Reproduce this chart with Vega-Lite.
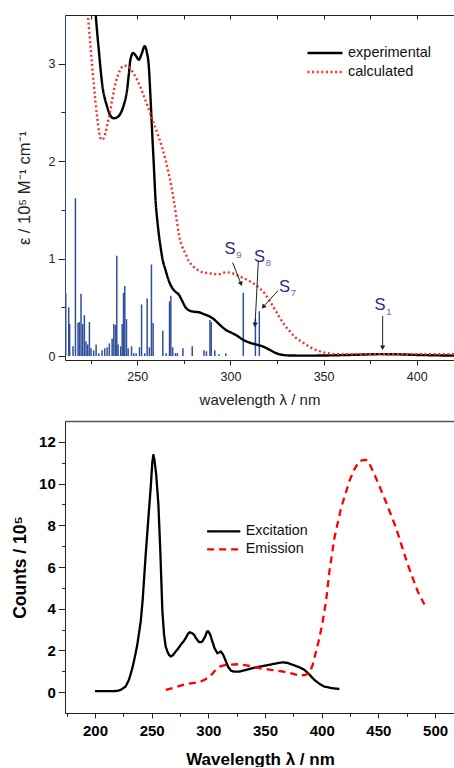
{
  "$schema": "https://vega.github.io/schema/vega-lite/v6.json",
  "padding": {"left": 11, "top": 14, "right": 0, "bottom": 0},
  "spacing": 13,
  "align": "all",
  "datasets": {
    "uv": [
      {"wl": 225.0, "eps": 4.3, "series": "experimental"},
      {"wl": 226.5, "eps": 3.85, "series": "experimental"},
      {"wl": 227.7, "eps": 3.5, "series": "experimental"},
      {"wl": 229.3, "eps": 3.15, "series": "experimental"},
      {"wl": 231.1, "eps": 2.8, "series": "experimental"},
      {"wl": 233.8, "eps": 2.56, "series": "experimental"},
      {"wl": 235.5, "eps": 2.47, "series": "experimental"},
      {"wl": 237.4, "eps": 2.44, "series": "experimental"},
      {"wl": 239.2, "eps": 2.45, "series": "experimental"},
      {"wl": 241.0, "eps": 2.49, "series": "experimental"},
      {"wl": 242.8, "eps": 2.58, "series": "experimental"},
      {"wl": 244.5, "eps": 2.73, "series": "experimental"},
      {"wl": 245.5, "eps": 2.9, "series": "experimental"},
      {"wl": 246.3, "eps": 3.04, "series": "experimental"},
      {"wl": 247.8, "eps": 3.11, "series": "experimental"},
      {"wl": 249.3, "eps": 3.08, "series": "experimental"},
      {"wl": 250.8, "eps": 3.04, "series": "experimental"},
      {"wl": 252.3, "eps": 3.1, "series": "experimental"},
      {"wl": 254.0, "eps": 3.18, "series": "experimental"},
      {"wl": 255.1, "eps": 3.12, "series": "experimental"},
      {"wl": 256.2, "eps": 2.97, "series": "experimental"},
      {"wl": 257.1, "eps": 2.65, "series": "experimental"},
      {"wl": 258.0, "eps": 2.29, "series": "experimental"},
      {"wl": 258.9, "eps": 1.95, "series": "experimental"},
      {"wl": 259.8, "eps": 1.6, "series": "experimental"},
      {"wl": 260.7, "eps": 1.4, "series": "experimental"},
      {"wl": 261.5, "eps": 1.26, "series": "experimental"},
      {"wl": 262.5, "eps": 1.12, "series": "experimental"},
      {"wl": 263.4, "eps": 1.01, "series": "experimental"},
      {"wl": 265.2, "eps": 0.88, "series": "experimental"},
      {"wl": 267.0, "eps": 0.77, "series": "experimental"},
      {"wl": 268.7, "eps": 0.7, "series": "experimental"},
      {"wl": 270.5, "eps": 0.66, "series": "experimental"},
      {"wl": 272.3, "eps": 0.63, "series": "experimental"},
      {"wl": 274.0, "eps": 0.57, "series": "experimental"},
      {"wl": 275.9, "eps": 0.5, "series": "experimental"},
      {"wl": 277.7, "eps": 0.47, "series": "experimental"},
      {"wl": 280.5, "eps": 0.455, "series": "experimental"},
      {"wl": 283.1, "eps": 0.45, "series": "experimental"},
      {"wl": 285.8, "eps": 0.43, "series": "experimental"},
      {"wl": 288.5, "eps": 0.41, "series": "experimental"},
      {"wl": 291.0, "eps": 0.38, "series": "experimental"},
      {"wl": 293.8, "eps": 0.33, "series": "experimental"},
      {"wl": 297.4, "eps": 0.27, "series": "experimental"},
      {"wl": 300.5, "eps": 0.24, "series": "experimental"},
      {"wl": 303.5, "eps": 0.21, "series": "experimental"},
      {"wl": 306.5, "eps": 0.17, "series": "experimental"},
      {"wl": 310.0, "eps": 0.14, "series": "experimental"},
      {"wl": 313.7, "eps": 0.12, "series": "experimental"},
      {"wl": 317.3, "eps": 0.1, "series": "experimental"},
      {"wl": 320.5, "eps": 0.07, "series": "experimental"},
      {"wl": 324.5, "eps": 0.03, "series": "experimental"},
      {"wl": 328.1, "eps": 0.012, "series": "experimental"},
      {"wl": 332.5, "eps": 0.006, "series": "experimental"},
      {"wl": 340.5, "eps": 0.005, "series": "experimental"},
      {"wl": 350.0, "eps": 0.006, "series": "experimental"},
      {"wl": 360.0, "eps": 0.01, "series": "experimental"},
      {"wl": 370.0, "eps": 0.015, "series": "experimental"},
      {"wl": 380.0, "eps": 0.02, "series": "experimental"},
      {"wl": 390.0, "eps": 0.018, "series": "experimental"},
      {"wl": 400.0, "eps": 0.012, "series": "experimental"},
      {"wl": 410.0, "eps": 0.008, "series": "experimental"},
      {"wl": 420.0, "eps": 0.005, "series": "experimental"},
      {"wl": 222.0, "eps": 3.75, "series": "calculated"},
      {"wl": 223.5, "eps": 3.49, "series": "calculated"},
      {"wl": 225.0, "eps": 3.15, "series": "calculated"},
      {"wl": 226.6, "eps": 2.8, "series": "calculated"},
      {"wl": 228.4, "eps": 2.46, "series": "calculated"},
      {"wl": 229.5, "eps": 2.3, "series": "calculated"},
      {"wl": 230.8, "eps": 2.22, "series": "calculated"},
      {"wl": 231.8, "eps": 2.23, "series": "calculated"},
      {"wl": 232.9, "eps": 2.29, "series": "calculated"},
      {"wl": 234.2, "eps": 2.4, "series": "calculated"},
      {"wl": 235.6, "eps": 2.53, "series": "calculated"},
      {"wl": 236.9, "eps": 2.67, "series": "calculated"},
      {"wl": 238.3, "eps": 2.8, "series": "calculated"},
      {"wl": 240.0, "eps": 2.9, "series": "calculated"},
      {"wl": 241.5, "eps": 2.96, "series": "calculated"},
      {"wl": 242.8, "eps": 2.98, "series": "calculated"},
      {"wl": 244.1, "eps": 2.98, "series": "calculated"},
      {"wl": 245.4, "eps": 2.97, "series": "calculated"},
      {"wl": 248.0, "eps": 2.9, "series": "calculated"},
      {"wl": 250.8, "eps": 2.8, "series": "calculated"},
      {"wl": 253.5, "eps": 2.67, "series": "calculated"},
      {"wl": 256.2, "eps": 2.53, "series": "calculated"},
      {"wl": 258.8, "eps": 2.39, "series": "calculated"},
      {"wl": 261.5, "eps": 2.25, "series": "calculated"},
      {"wl": 265.2, "eps": 2.01, "series": "calculated"},
      {"wl": 268.7, "eps": 1.7, "series": "calculated"},
      {"wl": 269.6, "eps": 1.6, "series": "calculated"},
      {"wl": 271.0, "eps": 1.42, "series": "calculated"},
      {"wl": 272.3, "eps": 1.25, "series": "calculated"},
      {"wl": 274.0, "eps": 1.13, "series": "calculated"},
      {"wl": 275.9, "eps": 1.05, "series": "calculated"},
      {"wl": 277.5, "eps": 0.98, "series": "calculated"},
      {"wl": 279.5, "eps": 0.93, "series": "calculated"},
      {"wl": 282.0, "eps": 0.89, "series": "calculated"},
      {"wl": 284.9, "eps": 0.86, "series": "calculated"},
      {"wl": 288.5, "eps": 0.85, "series": "calculated"},
      {"wl": 293.8, "eps": 0.84, "series": "calculated"},
      {"wl": 297.6, "eps": 0.86, "series": "calculated"},
      {"wl": 301.0, "eps": 0.85, "series": "calculated"},
      {"wl": 304.7, "eps": 0.82, "series": "calculated"},
      {"wl": 310.1, "eps": 0.77, "series": "calculated"},
      {"wl": 315.5, "eps": 0.7, "series": "calculated"},
      {"wl": 318.5, "eps": 0.64, "series": "calculated"},
      {"wl": 320.9, "eps": 0.57, "series": "calculated"},
      {"wl": 323.5, "eps": 0.49, "series": "calculated"},
      {"wl": 326.3, "eps": 0.4, "series": "calculated"},
      {"wl": 329.0, "eps": 0.32, "series": "calculated"},
      {"wl": 331.6, "eps": 0.26, "series": "calculated"},
      {"wl": 335.0, "eps": 0.19, "series": "calculated"},
      {"wl": 338.8, "eps": 0.14, "series": "calculated"},
      {"wl": 343.0, "eps": 0.09, "series": "calculated"},
      {"wl": 347.8, "eps": 0.05, "series": "calculated"},
      {"wl": 352.0, "eps": 0.03, "series": "calculated"},
      {"wl": 356.7, "eps": 0.02, "series": "calculated"},
      {"wl": 365.0, "eps": 0.02, "series": "calculated"},
      {"wl": 380.0, "eps": 0.02, "series": "calculated"},
      {"wl": 400.0, "eps": 0.02, "series": "calculated"},
      {"wl": 420.0, "eps": 0.02, "series": "calculated"}
    ],
    "sticks": [
      {"wl": 211.3, "f": 4.0}, {"wl": 211.6, "f": 0.64}, {"wl": 213.2, "f": 0.5}, {"wl": 213.7, "f": 0.33},
      {"wl": 215.5, "f": 0.1}, {"wl": 216.8, "f": 1.62}, {"wl": 218.2, "f": 0.34}, {"wl": 218.9, "f": 0.35},
      {"wl": 219.8, "f": 0.64}, {"wl": 220.7, "f": 0.33}, {"wl": 221.6, "f": 0.42}, {"wl": 222.5, "f": 0.15},
      {"wl": 223.4, "f": 0.12}, {"wl": 224.3, "f": 0.35}, {"wl": 225.2, "f": 0.08}, {"wl": 226.6, "f": 0.06},
      {"wl": 227.9, "f": 0.12}, {"wl": 229.3, "f": 0.03}, {"wl": 231.1, "f": 0.06}, {"wl": 232.5, "f": 0.08},
      {"wl": 233.8, "f": 0.09}, {"wl": 235.0, "f": 0.13}, {"wl": 236.5, "f": 0.18}, {"wl": 237.4, "f": 0.33},
      {"wl": 238.3, "f": 0.32}, {"wl": 239.0, "f": 1.03}, {"wl": 239.7, "f": 0.12}, {"wl": 241.1, "f": 0.1},
      {"wl": 241.9, "f": 0.33}, {"wl": 242.6, "f": 0.65}, {"wl": 243.3, "f": 0.72}, {"wl": 244.2, "f": 0.38},
      {"wl": 245.1, "f": 0.08}, {"wl": 246.9, "f": 0.1}, {"wl": 248.1, "f": 0.03}, {"wl": 249.4, "f": 0.03},
      {"wl": 251.2, "f": 0.09}, {"wl": 252.3, "f": 0.53}, {"wl": 254.0, "f": 0.03}, {"wl": 255.3, "f": 0.59},
      {"wl": 256.5, "f": 0.09}, {"wl": 257.6, "f": 0.94}, {"wl": 258.5, "f": 0.34}, {"wl": 263.7, "f": 0.26},
      {"wl": 265.5, "f": 0.03}, {"wl": 267.3, "f": 0.56}, {"wl": 268.0, "f": 0.62}, {"wl": 269.0, "f": 0.09},
      {"wl": 270.5, "f": 0.03}, {"wl": 271.5, "f": 0.03}, {"wl": 274.5, "f": 0.08}, {"wl": 279.5, "f": 0.1},
      {"wl": 285.8, "f": 0.06}, {"wl": 287.1, "f": 0.05}, {"wl": 289.0, "f": 0.37}, {"wl": 289.7, "f": 0.35},
      {"wl": 291.6, "f": 0.06}, {"wl": 293.8, "f": 0.02}, {"wl": 297.5, "f": 0.03}, {"wl": 306.9, "f": 0.65},
      {"wl": 313.4, "f": 0.38}, {"wl": 315.5, "f": 0.46}, {"wl": 348.5, "f": 0.01}, {"wl": 382.0, "f": 0.005}
    ],
    "notes": [
      {"state": "S", "sub": "9", "lx": 299.8, "ly": 1.1, "x": 301.2, "y": 0.96, "x2": 305.7, "y2": 0.74},
      {"state": "S", "sub": "8", "lx": 315.6, "ly": 1.02, "x": 315.0, "y": 0.98, "x2": 313.2, "y2": 0.32},
      {"state": "S", "sub": "7", "lx": 329.0, "ly": 0.71, "x": 325.4, "y": 0.67, "x2": 317.6, "y2": 0.505},
      {"state": "S", "sub": "1", "lx": 380.3, "ly": 0.52, "x": 381.7, "y": 0.412, "x2": 381.7, "y2": 0.086}
    ],
    "pl": [
      {"wl": 200, "cnt": 0.05, "kind": "Excitation"},
      {"wl": 205, "cnt": 0.05, "kind": "Excitation"},
      {"wl": 210, "cnt": 0.05, "kind": "Excitation"},
      {"wl": 215, "cnt": 0.05, "kind": "Excitation"},
      {"wl": 220, "cnt": 0.06, "kind": "Excitation"},
      {"wl": 223, "cnt": 0.12, "kind": "Excitation"},
      {"wl": 227, "cnt": 0.27, "kind": "Excitation"},
      {"wl": 230, "cnt": 0.6, "kind": "Excitation"},
      {"wl": 232.9, "cnt": 1.15, "kind": "Excitation"},
      {"wl": 235, "cnt": 1.65, "kind": "Excitation"},
      {"wl": 237.3, "cnt": 2.27, "kind": "Excitation"},
      {"wl": 240.3, "cnt": 3.39, "kind": "Excitation"},
      {"wl": 242, "cnt": 4.4, "kind": "Excitation"},
      {"wl": 244.7, "cnt": 6.6, "kind": "Excitation"},
      {"wl": 247, "cnt": 8.3, "kind": "Excitation"},
      {"wl": 249.1, "cnt": 9.79, "kind": "Excitation"},
      {"wl": 250.5, "cnt": 11.0, "kind": "Excitation"},
      {"wl": 251.5, "cnt": 11.4, "kind": "Excitation"},
      {"wl": 252.5, "cnt": 11.1, "kind": "Excitation"},
      {"wl": 254, "cnt": 10.4, "kind": "Excitation"},
      {"wl": 255.9, "cnt": 9.0, "kind": "Excitation"},
      {"wl": 257.5, "cnt": 6.9, "kind": "Excitation"},
      {"wl": 259.4, "cnt": 3.9, "kind": "Excitation"},
      {"wl": 260.9, "cnt": 2.75, "kind": "Excitation"},
      {"wl": 262.3, "cnt": 2.2, "kind": "Excitation"},
      {"wl": 263.8, "cnt": 1.95, "kind": "Excitation"},
      {"wl": 265.3, "cnt": 1.78, "kind": "Excitation"},
      {"wl": 266.8, "cnt": 1.71, "kind": "Excitation"},
      {"wl": 268.5, "cnt": 1.76, "kind": "Excitation"},
      {"wl": 271.2, "cnt": 1.95, "kind": "Excitation"},
      {"wl": 273.5, "cnt": 2.1, "kind": "Excitation"},
      {"wl": 275.6, "cnt": 2.27, "kind": "Excitation"},
      {"wl": 278, "cnt": 2.42, "kind": "Excitation"},
      {"wl": 280, "cnt": 2.59, "kind": "Excitation"},
      {"wl": 282, "cnt": 2.8, "kind": "Excitation"},
      {"wl": 283.5, "cnt": 2.87, "kind": "Excitation"},
      {"wl": 285.5, "cnt": 2.83, "kind": "Excitation"},
      {"wl": 287.4, "cnt": 2.75, "kind": "Excitation"},
      {"wl": 289.5, "cnt": 2.55, "kind": "Excitation"},
      {"wl": 291.8, "cnt": 2.4, "kind": "Excitation"},
      {"wl": 293.5, "cnt": 2.4, "kind": "Excitation"},
      {"wl": 294.7, "cnt": 2.43, "kind": "Excitation"},
      {"wl": 297, "cnt": 2.65, "kind": "Excitation"},
      {"wl": 298.8, "cnt": 2.9, "kind": "Excitation"},
      {"wl": 300, "cnt": 2.91, "kind": "Excitation"},
      {"wl": 301.7, "cnt": 2.75, "kind": "Excitation"},
      {"wl": 303.5, "cnt": 2.43, "kind": "Excitation"},
      {"wl": 305.5, "cnt": 2.1, "kind": "Excitation"},
      {"wl": 307.9, "cnt": 1.87, "kind": "Excitation"},
      {"wl": 309.5, "cnt": 1.9, "kind": "Excitation"},
      {"wl": 310.9, "cnt": 1.95, "kind": "Excitation"},
      {"wl": 313, "cnt": 1.8, "kind": "Excitation"},
      {"wl": 315.3, "cnt": 1.5, "kind": "Excitation"},
      {"wl": 317.5, "cnt": 1.2, "kind": "Excitation"},
      {"wl": 320, "cnt": 1.03, "kind": "Excitation"},
      {"wl": 323, "cnt": 0.98, "kind": "Excitation"},
      {"wl": 327.3, "cnt": 0.99, "kind": "Excitation"},
      {"wl": 333, "cnt": 1.06, "kind": "Excitation"},
      {"wl": 339.1, "cnt": 1.15, "kind": "Excitation"},
      {"wl": 346, "cnt": 1.23, "kind": "Excitation"},
      {"wl": 353.8, "cnt": 1.31, "kind": "Excitation"},
      {"wl": 360, "cnt": 1.38, "kind": "Excitation"},
      {"wl": 365.6, "cnt": 1.43, "kind": "Excitation"},
      {"wl": 370, "cnt": 1.4, "kind": "Excitation"},
      {"wl": 374.4, "cnt": 1.31, "kind": "Excitation"},
      {"wl": 380, "cnt": 1.2, "kind": "Excitation"},
      {"wl": 384.7, "cnt": 1.07, "kind": "Excitation"},
      {"wl": 389, "cnt": 0.85, "kind": "Excitation"},
      {"wl": 393.5, "cnt": 0.59, "kind": "Excitation"},
      {"wl": 398, "cnt": 0.4, "kind": "Excitation"},
      {"wl": 402.3, "cnt": 0.27, "kind": "Excitation"},
      {"wl": 408, "cnt": 0.2, "kind": "Excitation"},
      {"wl": 415.6, "cnt": 0.15, "kind": "Excitation"},
      {"wl": 262.4, "cnt": 0.11, "kind": "Emission"},
      {"wl": 270, "cnt": 0.22, "kind": "Emission"},
      {"wl": 280, "cnt": 0.38, "kind": "Emission"},
      {"wl": 290.3, "cnt": 0.47, "kind": "Emission"},
      {"wl": 295, "cnt": 0.55, "kind": "Emission"},
      {"wl": 299.1, "cnt": 0.67, "kind": "Emission"},
      {"wl": 303, "cnt": 0.85, "kind": "Emission"},
      {"wl": 306.5, "cnt": 1.07, "kind": "Emission"},
      {"wl": 311, "cnt": 1.25, "kind": "Emission"},
      {"wl": 315.6, "cnt": 1.31, "kind": "Emission"},
      {"wl": 327.3, "cnt": 1.34, "kind": "Emission"},
      {"wl": 335, "cnt": 1.27, "kind": "Emission"},
      {"wl": 345, "cnt": 1.15, "kind": "Emission"},
      {"wl": 355, "cnt": 1.07, "kind": "Emission"},
      {"wl": 365.6, "cnt": 0.99, "kind": "Emission"},
      {"wl": 375, "cnt": 0.88, "kind": "Emission"},
      {"wl": 380.3, "cnt": 0.8, "kind": "Emission"},
      {"wl": 385, "cnt": 0.82, "kind": "Emission"},
      {"wl": 389.1, "cnt": 0.91, "kind": "Emission"},
      {"wl": 392, "cnt": 1.3, "kind": "Emission"},
      {"wl": 395, "cnt": 1.95, "kind": "Emission"},
      {"wl": 398, "cnt": 2.6, "kind": "Emission"},
      {"wl": 400.9, "cnt": 3.4, "kind": "Emission"},
      {"wl": 403.8, "cnt": 4.35, "kind": "Emission"},
      {"wl": 406.8, "cnt": 5.79, "kind": "Emission"},
      {"wl": 411.2, "cnt": 7.39, "kind": "Emission"},
      {"wl": 417.1, "cnt": 8.83, "kind": "Emission"},
      {"wl": 424.4, "cnt": 10.12, "kind": "Emission"},
      {"wl": 428.8, "cnt": 10.68, "kind": "Emission"},
      {"wl": 433.2, "cnt": 11.08, "kind": "Emission"},
      {"wl": 437, "cnt": 11.13, "kind": "Emission"},
      {"wl": 440.6, "cnt": 11.12, "kind": "Emission"},
      {"wl": 446.5, "cnt": 10.44, "kind": "Emission"},
      {"wl": 455.3, "cnt": 9.31, "kind": "Emission"},
      {"wl": 465.6, "cnt": 7.87, "kind": "Emission"},
      {"wl": 475.9, "cnt": 6.12, "kind": "Emission"},
      {"wl": 484.7, "cnt": 4.83, "kind": "Emission"},
      {"wl": 490.6, "cnt": 4.2, "kind": "Emission"}
    ]
  },
  "vconcat": [
    {
      "width": 389,
      "height": 345,
      "layer": [
        {
          "data": {"name": "sticks"},
          "mark": {"type": "rule", "clip": true, "color": "#2f4f9c", "strokeWidth": 1.5},
          "encoding": {
            "x": {"field": "wl", "type": "quantitative", "scale": {"domain": [211.2, 420], "nice": false, "zero": false},
                  "axis": {"orient": "bottom", "values": [225, 275, 325, 375], "labels": false, "domain": false, "tickSize": 3.5, "title": null}},
            "y": {"field": "f", "type": "quantitative", "scale": {"domain": [-0.04, 3.5], "nice": false, "zero": false},
                  "axis": {"orient": "left", "values": [0.5, 1.5, 2.5], "labels": false, "domain": false, "tickSize": 4, "title": null}},
            "y2": {"datum": 0}
          }
        },
        {
          "data": {"name": "uv"},
          "mark": {"type": "line", "clip": true, "strokeWidth": 2.4, "interpolate": "monotone"},
          "encoding": {
            "x": {"field": "wl", "type": "quantitative", "scale": {"domain": [211.2, 420], "nice": false, "zero": false},
                  "axis": {"orient": "bottom", "values": [250, 300, 350, 400], "tickSize": 5, "labelFontSize": 12.5, "labelPadding": 5, "title": "wavelength λ / nm", "titleFontSize": 15, "titlePadding": 10, "labelFlush": false}},
            "y": {"field": "eps", "type": "quantitative", "scale": {"domain": [-0.04, 3.5], "nice": false, "zero": false},
                  "axis": {"orient": "left", "values": [0, 1, 2, 3], "tickSize": 7, "labelFontSize": 12.5, "labelPadding": 3, "title": "ε / 10⁵ M⁻¹ cm⁻¹", "titleFontSize": 16.5, "titlePadding": 16, "labelFlush": false}},
            "color": {"field": "series", "type": "nominal",
                      "scale": {"domain": ["experimental", "calculated"], "range": ["#000000", "#ff2b2b"]},
                      "legend": {"orient": "none", "legendX": 241, "legendY": 28.5, "title": null, "symbolType": "stroke", "symbolSize": 1225, "symbolStrokeWidth": 2.4, "labelFontSize": 14.5, "labelOffset": 4, "clipHeight": 19, "rowPadding": 0, "padding": 0, "labelColor": "#111"}},
            "strokeDash": {"field": "series", "type": "nominal",
                      "scale": {"domain": ["experimental", "calculated"], "range": [[1, 0], [2, 2.6]]},
                      "legend": {"orient": "none", "legendX": 241, "legendY": 28.5, "title": null, "symbolType": "stroke", "symbolSize": 1225, "symbolStrokeWidth": 2.4, "labelFontSize": 14.5, "labelOffset": 4, "clipHeight": 19, "rowPadding": 0, "padding": 0, "labelColor": "#111"}}
          }
        },
        {
          "data": {"name": "notes"},
          "mark": {"type": "rule", "color": "#222", "strokeWidth": 1},
          "encoding": {
            "x": {"field": "x", "type": "quantitative", "scale": {"domain": [211.2, 420], "nice": false, "zero": false},
                  "axis": {"orient": "top", "values": [225, 250, 275, 300, 325, 350, 375, 400], "labels": false, "tickSize": -4, "title": null}},
            "y": {"field": "y", "type": "quantitative", "scale": {"domain": [-0.04, 3.5], "nice": false, "zero": false}, "axis": null},
            "x2": {"field": "x2"},
            "y2": {"field": "y2"}
          }
        },
        {
          "data": {"name": "notes"},
          "transform": [{"calculate": "atan2((datum.x2 - datum.x) * 1.8627, (datum.y2 - datum.y) * 97.5) * 180 / PI", "as": "ang"}],
          "mark": {"type": "point", "shape": "triangle-up", "filled": true, "color": "#222", "size": 28, "opacity": 1},
          "encoding": {
            "x": {"field": "x2", "type": "quantitative", "scale": {"domain": [211.2, 420], "nice": false, "zero": false}, "axis": null},
            "y": {"field": "y2", "type": "quantitative", "scale": {"domain": [-0.04, 3.5], "nice": false, "zero": false}, "axis": null},
            "angle": {"field": "ang", "type": "quantitative", "scale": null}
          }
        },
        {
          "data": {"name": "notes"},
          "mark": {"type": "text", "fontSize": 16.5, "color": "#2e2a7c", "align": "center", "baseline": "middle"},
          "encoding": {
            "x": {"field": "lx", "type": "quantitative", "scale": {"domain": [211.2, 420], "nice": false, "zero": false}, "axis": null},
            "y": {"field": "ly", "type": "quantitative", "scale": {"domain": [-0.04, 3.5], "nice": false, "zero": false}, "axis": null},
            "text": {"field": "state"}
          }
        },
        {
          "data": {"name": "notes"},
          "mark": {"type": "text", "fontSize": 9.5, "color": "#6a68b0", "align": "center", "baseline": "middle", "dx": 8.9, "dy": 6.5},
          "encoding": {
            "x": {"field": "lx", "type": "quantitative", "scale": {"domain": [211.2, 420], "nice": false, "zero": false}, "axis": null},
            "y": {"field": "ly", "type": "quantitative", "scale": {"domain": [-0.04, 3.5], "nice": false, "zero": false}, "axis": null},
            "text": {"field": "sub"}
          }
        }
      ],
      "resolve": {"axis": {"x": "independent", "y": "independent"}}
    },
    {
      "width": 390,
      "height": 292,
      "layer": [
        {
          "data": {"name": "pl"},
          "mark": {"type": "line", "strokeWidth": 2.3},
          "encoding": {
            "x": {"field": "wl", "type": "quantitative", "scale": {"domain": [173.5, 517.6], "nice": false, "zero": false},
                  "axis": {"orient": "bottom", "values": [200, 250, 300, 350, 400, 450, 500], "tickSize": 5, "labelFontSize": 15, "labelFontWeight": "bold", "labelColor": "#000", "labelPadding": 5, "title": "Wavelength λ / nm", "titleFontSize": 17, "titleFontWeight": "bold", "titleColor": "#000", "titlePadding": 13, "labelFlush": false}},
            "y": {"field": "cnt", "type": "quantitative", "scale": {"domain": [-1, 13], "nice": false, "zero": false},
                  "axis": {"orient": "left", "values": [0, 2, 4, 6, 8, 10, 12], "tickSize": 6.7, "labelFontSize": 15, "labelFontWeight": "bold", "labelColor": "#000", "labelPadding": 3, "title": "Counts / 10⁵", "titleFontSize": 17.5, "titleFontWeight": "bold", "titleColor": "#000", "titlePadding": 9, "labelFlush": false}},
            "color": {"field": "kind", "type": "nominal",
                      "scale": {"domain": ["Excitation", "Emission"], "range": ["#000000", "#ff0000"]},
                      "legend": {"orient": "none", "legendX": 140.7, "legendY": 101.5, "title": null, "symbolType": "stroke", "symbolSize": 1100, "symbolStrokeWidth": 2.3, "labelFontSize": 14.3, "labelOffset": 4, "clipHeight": 17.7, "rowPadding": 0, "padding": 0, "labelColor": "#111"}},
            "strokeDash": {"field": "kind", "type": "nominal",
                      "scale": {"domain": ["Excitation", "Emission"], "range": [[1, 0], [7, 5]]},
                      "legend": {"orient": "none", "legendX": 140.7, "legendY": 101.5, "title": null, "symbolType": "stroke", "symbolSize": 1100, "symbolStrokeWidth": 2.3, "labelFontSize": 14.3, "labelOffset": 4, "clipHeight": 17.7, "rowPadding": 0, "padding": 0, "labelColor": "#111"}}
          }
        },
        {
          "data": {"name": "pl"},
          "mark": {"type": "point", "opacity": 0},
          "encoding": {
            "x": {"field": "wl", "type": "quantitative", "scale": {"domain": [173.5, 517.6], "nice": false, "zero": false},
                  "axis": {"orient": "bottom", "values": [175, 225, 275, 325, 375, 425, 475], "labels": false, "domain": false, "tickSize": 3.3, "title": null}},
            "y": {"field": "cnt", "type": "quantitative", "scale": {"domain": [-1, 13], "nice": false, "zero": false},
                  "axis": {"orient": "left", "values": [1, 3, 5, 7, 9, 11], "labels": false, "domain": false, "tickSize": 3.3, "title": null}}
          }
        },
        {
          "data": {"name": "pl"},
          "mark": {"type": "point", "opacity": 0},
          "encoding": {
            "x": {"field": "wl", "type": "quantitative", "scale": {"domain": [173.5, 517.6], "nice": false, "zero": false},
                  "axis": {"orient": "top", "labels": false, "ticks": false, "domain": true, "domainColor": "#555", "domainWidth": 1.5, "title": null}},
            "y": {"field": "cnt", "type": "quantitative", "scale": {"domain": [-1, 13], "nice": false, "zero": false}, "axis": null}
          }
        }
      ],
      "resolve": {"axis": {"x": "independent", "y": "independent"}}
    }
  ],
  "resolve": {"scale": {"color": "independent", "strokeDash": "independent"}},
  "config": {
    "font": "Liberation Sans",
    "view": {"stroke": null},
    "axis": {"grid": false, "domainColor": "#222", "tickColor": "#222", "labelColor": "#222", "titleColor": "#222", "labelFont": "Liberation Sans", "titleFont": "Liberation Sans", "titleFontWeight": "normal"},
    "legend": {"labelFont": "Liberation Sans"}
  }
}
